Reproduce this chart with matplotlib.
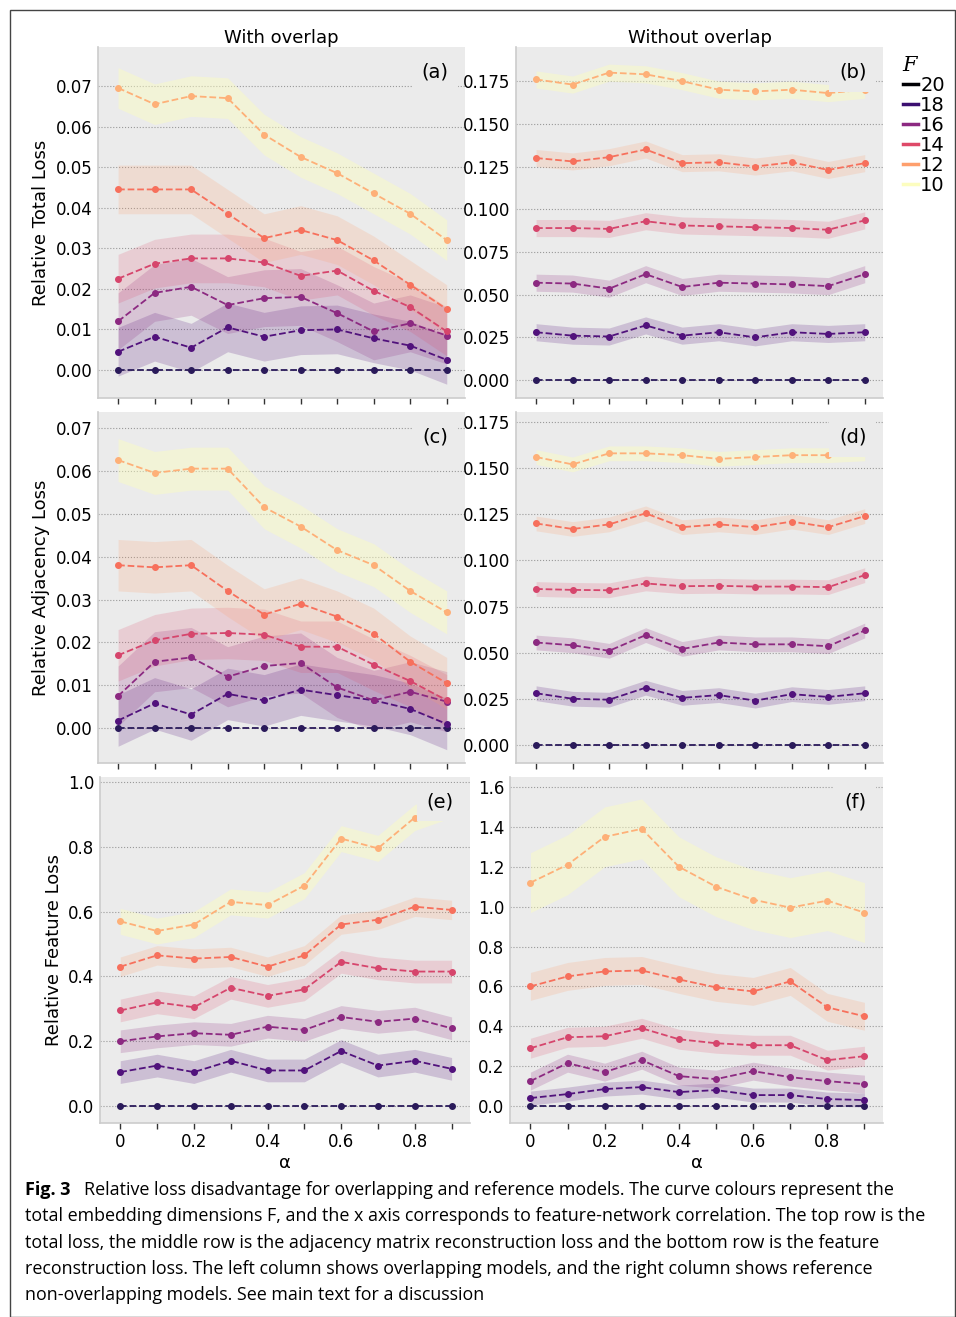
import matplotlib
matplotlib.use("Agg")
import matplotlib.pyplot as plt
import numpy as np
from matplotlib.lines import Line2D
from matplotlib.patches import Rectangle

alpha = [0, 0.1, 0.2, 0.3, 0.4, 0.5, 0.6, 0.7, 0.8, 0.9]
dims = [20, 18, 16, 14, 12, 10]
zeros = [0.0] * 10

a_vals = {
    20: zeros,
    18: [.0045, .0082, .0055, .0105, .0082, .0098, .0100, .0078, .0060, .0025],
    16: [.012, .019, .0205, .016, .0177, .018, .014, .0095, .0115, .0085],
    14: [.0225, .0262, .0275, .0275, .0265, .0232, .0245, .0195, .0155, .0095],
    12: [.0445, .0445, .0445, .0385, .0325, .0345, .032, .027, .021, .015],
    10: [.0695, .0655, .0675, .067, .058, .0525, .0485, .0435, .0385, .032],
}
b_vals = {
    20: zeros,
    18: [.028, .026, .0255, .032, .026, .028, .025, .028, .027, .028],
    16: [.057, .0565, .0535, .062, .0545, .057, .0565, .056, .055, .062],
    14: [.089, .089, .0885, .093, .0905, .090, .0895, .089, .088, .0935],
    12: [.130, .128, .1305, .135, .127, .1275, .125, .1275, .123, .127],
    10: [.176, .173, .180, .179, .175, .170, .169, .170, .168, .170],
}
c_vals = {
    20: zeros,
    18: [.0018, .0058, .0032, .008, .0065, .009, .0077, .0065, .0045, .0010],
    16: [.0075, .0155, .0165, .012, .0145, .0152, .0095, .0065, .0085, .0062],
    14: [.017, .0205, .022, .0222, .0218, .019, .019, .0148, .011, .0065],
    12: [.038, .0375, .038, .032, .0265, .029, .026, .022, .0155, .0105],
    10: [.0625, .0595, .0605, .0605, .0515, .047, .0415, .038, .032, .027],
}
d_vals = {
    20: zeros,
    18: [.028, .025, .0245, .031, .0255, .027, .024, .0275, .026, .028],
    16: [.0555, .054, .051, .0595, .052, .0555, .0545, .0545, .0535, .062],
    14: [.0845, .084, .0838, .0875, .086, .0862, .0858, .0858, .0855, .092],
    12: [.120, .117, .1195, .1255, .118, .1195, .118, .121, .118, .124],
    10: [.156, .152, .158, .158, .157, .155, .156, .157, .157, .158],
}
e_vals = {
    20: zeros,
    18: [.105, .125, .105, .14, .11, .11, .17, .125, .14, .115],
    16: [.20, .215, .225, .22, .245, .235, .275, .26, .27, .24],
    14: [.295, .32, .305, .365, .34, .36, .445, .425, .415, .415],
    12: [.43, .465, .455, .46, .43, .465, .56, .575, .615, .605],
    10: [.57, .54, .56, .63, .62, .68, .825, .795, .89, .93],
}
f_vals = {
    20: zeros,
    18: [.04, .06, .085, .095, .07, .08, .055, .055, .035, .03],
    16: [.125, .215, .17, .23, .15, .135, .175, .145, .125, .11],
    14: [.29, .345, .35, .39, .335, .315, .305, .305, .23, .25],
    12: [.60, .65, .675, .68, .635, .595, .575, .625, .495, .45],
    10: [1.12, 1.21, 1.35, 1.39, 1.20, 1.10, 1.035, .995, 1.03, .97],
}
# band half-widths per F
a_sd = {20: 0, 18: .006, 16: .007, 14: .006, 12: .006, 10: .005}
b_sd = {20: 0, 18: .005, 16: .005, 14: .005, 12: .005, 10: .005}
c_sd = {20: 0, 18: .006, 16: .007, 14: .006, 12: .006, 10: .005}
d_sd = {20: 0, 18: .004, 16: .004, 14: .004, 12: .004, 10: .004}
e_sd = {20: 0, 18: .035, 16: .035, 14: .035, 12: .03, 10: .04}
f_sd = {20: 0, 18: .035, 16: .045, 14: .05, 12: .07, 10: .15}

line_col = {20: "#2a1a5a", 18: "#51127c", 16: "#8c2981", 14: "#d6456c", 12: "#f7705c", 10: "#feb078"}
band_col = {20: "#1d1147", 18: "#51127c", 16: "#8c2981", 14: "#de4968", 12: "#fe9f6d", 10: "#fcfdbf"}
band_alpha = {20: 0, 18: 0.2, 16: 0.2, 14: 0.18, 12: 0.2, 10: 0.45}
leg_col = {20: "#000004", 18: "#3b0f70", 16: "#8c2981", 14: "#de4968", 12: "#fe9f6d", 10: "#fcfdbf"}

W, H = 956, 1317
fig = plt.figure(figsize=(W / 100, H / 100), dpi=100)
plt.rcParams['font.family'] = ['DejaVu Sans']

def box(x0, y0, x1, y1):
    return [x0 / W, 1 - y1 / H, (x1 - x0) / W, (y1 - y0) / H]

panels = [
    ("(a)", a_vals, a_sd, box(98, 47, 465, 398), (-0.0069, 0.0796), [0, .01, .02, .03, .04, .05, .06, .07], "%.2f"),
    ("(b)", b_vals, b_sd, box(516, 47, 883, 398), (-0.0105, 0.195), [0, .025, .05, .075, .1, .125, .15, .175], "%.3f"),
    ("(c)", c_vals, c_sd, box(98, 412, 465, 763), (-0.0081, 0.0737), [0, .01, .02, .03, .04, .05, .06, .07], "%.2f"),
    ("(d)", d_vals, d_sd, box(516, 412, 883, 763), (-0.0098, 0.1804), [0, .025, .05, .075, .1, .125, .15, .175], "%.3f"),
    ("(e)", e_vals, e_sd, box(100, 777, 470, 1123), (-0.052, 1.015), [0, .2, .4, .6, .8, 1.0], "%.1f"),
    ("(f)", f_vals, f_sd, box(510, 777, 883, 1123), (-0.085, 1.65), [0, .2, .4, .6, .8, 1.0, 1.2, 1.4, 1.6], "%.1f"),
]

axes = []
for i, (lab, vals, sd, rect, ylim, yt, fmt) in enumerate(panels):
    ax = fig.add_axes(rect)
    axes.append(ax)
    ax.set_facecolor("#ebebeb")
    for s in ["top", "right"]:
        ax.spines[s].set_visible(False)
    for s in ["left", "bottom"]:
        ax.spines[s].set_color("#cccccc")
        ax.spines[s].set_linewidth(1.2)
    ax.set_ylim(*ylim)
    ax.set_xlim(-0.055, 0.95)
    ax.set_yticks(yt)
    ax.set_yticklabels([fmt % v for v in yt], fontsize=12)
    ax.yaxis.grid(True, linestyle=":", color="#999999", linewidth=0.8)
    ax.set_axisbelow(True)
    ax.tick_params(axis="y", length=0, pad=4)
    ax.set_xticks(alpha)
    ax.tick_params(axis="x", direction="out", length=4, color="#333333", width=1)
    if i >= 4:
        ax.set_xticklabels(["0", "", "0.2", "", "0.4", "", "0.6", "", "0.8", ""], fontsize=12)
        ax.set_xlabel("α", fontsize=13, labelpad=2)
    else:
        ax.set_xticklabels([])
    for F in dims:
        y = np.array(vals[F])
        s = sd[F]
        if s > 0:
            ax.fill_between(alpha, y - s, y + s, color=band_col[F], alpha=band_alpha[F], linewidth=0)
        ax.plot(alpha, y, linestyle="--", color=line_col[F], marker="o", markersize=4, linewidth=1.3, zorder=3)
    ax.text(0.955, 0.955, lab, transform=ax.transAxes, ha="right", va="top", fontsize=14,
            bbox=dict(boxstyle="square,pad=0.5", facecolor="#ebebeb", edgecolor="none"), zorder=5)

axes[0].set_ylabel("Relative Total Loss", fontsize=13)
axes[2].set_ylabel("Relative Adjacency Loss", fontsize=13)
axes[4].set_ylabel("Relative Feature Loss", fontsize=13)
axes[0].set_title("With overlap", fontsize=13, pad=3)
axes[1].set_title("Without overlap", fontsize=13, pad=3)

handles = [Line2D([0], [0], color=leg_col[F], linewidth=2.5) for F in dims]
leg = fig.legend(handles, [str(F) for F in dims], loc="upper left", bbox_to_anchor=(895 / W, 1 - 48 / H),
                 frameon=False, fontsize=14, handlelength=0.8, handletextpad=0.1, labelspacing=0.05,
                 title="F", borderaxespad=0)
leg.get_title().set_fontstyle("italic")
leg.get_title().set_family("DejaVu Serif")
leg.get_title().set_fontsize(15)
leg._legend_box.align = "left"

fig.patches.append(Rectangle((10 / W, 0), 1 - 10 / W - 1 / W, 1 - 10 / H, transform=fig.transFigure,
                             fill=False, edgecolor="#444444", linewidth=1))

cap = ["total embedding dimensions F, and the x axis corresponds to feature-network correlation. The top row is the",
       "total loss, the middle row is the adjacency matrix reconstruction loss and the bottom row is the feature",
       "reconstruction loss. The left column shows overlapping models, and the right column shows reference",
       "non-overlapping models. See main text for a discussion"]
cf = ["Open Sans", "DejaVu Sans"]
fig.text(25 / W, 1 - 1190 / H, "Fig. 3", fontsize=13, fontweight="bold", family=cf, va="center")
fig.text(84 / W, 1 - 1190 / H, "Relative loss disadvantage for overlapping and reference models. The curve colours represent the",
         fontsize=12.9, family=cf, va="center")
for k, line in enumerate(cap):
    fig.text(25 / W, 1 - (1216 + 26.5 * k) / H, line, fontsize=12.9, family=cf, va="center")

fig.savefig("out.png", dpi=100)
